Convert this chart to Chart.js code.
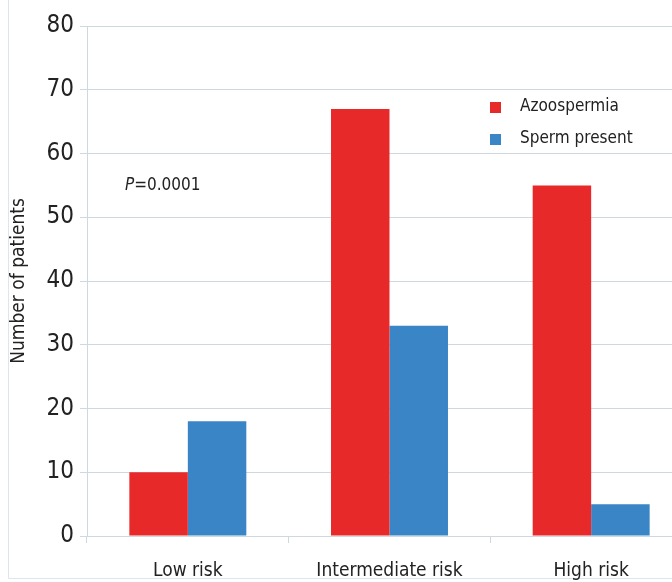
<!DOCTYPE html>
<html>
<head>
<meta charset="utf-8">
<script src="https://cdn.jsdelivr.net/npm/chart.js@4"></script>
<style>
  html, body { margin: 0; padding: 0; background: #fff; overflow: hidden; width: 672px; height: 582px; }
  #wrap { width: 700px; height: 582px; }
</style>
</head>
<body>
<div id="wrap"><canvas id="grafico" width="700" height="582"></canvas></div>
<script>
const categorias = ['Low risk', 'Intermediate risk', 'High risk'];
const azoospermia = [10, 67, 55];
const spermPresent = [18, 33, 5];
const yTicks = [0, 10, 20, 30, 40, 50, 60, 70, 80];

const FONT = "'Liberation Sans Narrow', 'DejaVu Sans Condensed', 'Liberation Sans', sans-serif";
const RED = '#e8292a';
const BLUE = '#3a85c6';
const GRID = '#cdd8df';

// legenda e valor de P desenhados dentro da área do gráfico
const extras = {
  id: 'extras',
  beforeDraw(chart) {
    const ctx = chart.ctx;
    ctx.save();
    ctx.fillStyle = '#fff';
    ctx.fillRect(0, 0, chart.width, chart.height);
    ctx.strokeStyle = '#dbe6ee';
    ctx.lineWidth = 1;
    ctx.beginPath();
    ctx.moveTo(8.5, 0);
    ctx.lineTo(8.5, 578.5);
    ctx.lineTo(chart.width, 578.5);
    ctx.stroke();
    ctx.restore();
  },
  afterDraw(chart) {
    const ctx = chart.ctx;
    ctx.save();
    ctx.textBaseline = 'middle';
    ctx.font = '17px ' + FONT;
    const itens = [[azoospermia, RED, 'Azoospermia'], [spermPresent, BLUE, 'Sperm present']];
    itens.forEach((it, i) => {
      const y = 107 + i * 32;
      ctx.fillStyle = it[1];
      ctx.fillRect(490, y - 5, 11, 11);
      ctx.fillStyle = '#222';
      ctx.fillText(it[2], 520, y);
    });
    ctx.font = 'italic 17px ' + FONT;
    ctx.fillText('P', 125, 186);
    const w = ctx.measureText('P').width;
    ctx.font = '17px ' + FONT;
    ctx.fillText('=0.0001', 125 + w, 186);
    ctx.restore();
  }
};

const ctx = document.getElementById('grafico').getContext('2d');
const grafico = new Chart(ctx, {
  type: 'bar',
  data: {
    labels: categorias,
    datasets: [
      { label: 'Azoospermia', data: azoospermia, backgroundColor: RED, categoryPercentage: 0.58, barPercentage: 1 },
      { label: 'Sperm present', data: spermPresent, backgroundColor: BLUE, categoryPercentage: 0.58, barPercentage: 1 }
    ]
  },
  options: {
    responsive: false,
    animation: false,
    layout: { padding: { top: 26, right: 8, bottom: 0, left: 0 } },
    plugins: { legend: { display: false }, tooltip: { enabled: false } },
    scales: {
      x: {
        afterFit(scale) { scale.height = 46; },
        grid: { offset: true, drawOnChartArea: false, color: GRID, tickLength: 7 },
        border: { color: GRID },
        ticks: { color: '#222', font: { family: FONT, size: 19 }, padding: 17 }
      },
      y: {
        min: 0,
        max: 80,
        afterFit(scale) { scale.width = 87; },
        afterBuildTicks(scale) { scale.ticks = yTicks.map(v => ({ value: v })); },
        grid: { color: GRID, tickLength: 7 },
        border: { color: GRID },
        ticks: { color: '#222', font: { family: FONT, size: 24 }, padding: 6 },
        title: { display: true, text: 'Number of patients', color: '#222', font: { family: FONT, size: 19 }, padding: { top: 8, bottom: 0 } }
      }
    }
  },
  plugins: [extras]
});
</script>
</body>
</html>
